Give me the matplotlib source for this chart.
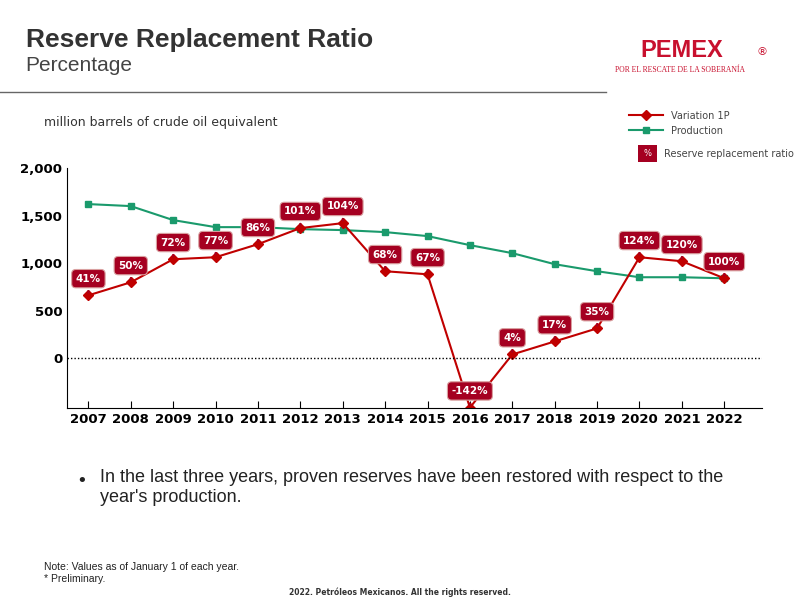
import matplotlib
matplotlib.use("Agg")
import matplotlib.pyplot as plt
from matplotlib.lines import Line2D

years = [2007,2008,2009,2010,2011,2012,2013,2014,2015,2016,2017,2018,2019,2020,2021,2022]
production = [1621,1600,1453,1379,1379,1358,1348,1327,1285,1190,1106,990,916,853,853,842]
variation = [663,800,1042,1063,1200,1369,1421,916,884,-516,42,179,316,1063,1021,842]
ratio = [41,50,72,77,86,101,104,68,67,-142,4,17,35,124,120,100]

RED = "#c00000"; GREEN = "#1a9a6c"; BOX = "#a50021"

fig = plt.figure(figsize=(8,6), dpi=100)
fig.text(0.032,0.922,"Reserve Replacement Ratio",fontsize=19,fontweight="bold",color="#333333",family="Liberation Sans")
fig.text(0.032,0.882,"Percentage",fontsize=15,color="#444444",family="Liberation Sans")
fig.add_artist(Line2D([0,0.757],[0.847,0.847],color="#666666",lw=1))
fig.text(0.80,0.905,"PEMEX",fontsize=17,fontweight="bold",color="#c8102e",family="Liberation Sans")
fig.text(0.945,0.908,"®",fontsize=8,color="#c8102e")
fig.text(0.769,0.88,"POR EL RESCATE DE LA SOBERANÍA",fontsize=5.5,color="#c8102e",family="Liberation Serif")
fig.text(0.055,0.79,"million barrels of crude oil equivalent",fontsize=9,color="#333333")

ax = fig.add_axes([0.084,0.32,0.869,0.40])
ax.plot(years,production,color=GREEN,marker="s",ms=5,lw=1.5)
ax.plot(years,variation,color=RED,marker="D",ms=5,lw=1.5)
ax.axhline(0,color="black",lw=1,ls=(0,(1,1.5)))
ax.set_xlim(2006.5,2022.9)
ax.set_ylim(-520,2000)
ax.set_yticks([0,500,1000,1500,2000])
ax.set_yticklabels(["0","500","1,000","1,500","2,000"])
ax.set_xticks(years)
for s in ["top","right"]:
    ax.spines[s].set_visible(False)
ax.tick_params(axis="y",labelsize=9.5,length=0)
ax.tick_params(axis="x",labelsize=9.5,direction="in",length=5)
for lab in ax.get_xticklabels()+ax.get_yticklabels():
    lab.set_fontweight("bold")

for x,v,r in zip(years,variation,ratio):
    ax.annotate(f"{r}%",(x,v),xytext=(0,12),textcoords="offset points",ha="center",va="center",
                fontsize=7.5,fontweight="bold",color="white",
                bbox=dict(boxstyle="round,pad=0.4",fc=BOX,ec="#d9a0a0",lw=0.8),
                arrowprops=dict(arrowstyle="-",color=BOX,lw=1.5))

handles=[Line2D([],[],color=RED,marker="D",ms=5),Line2D([],[],color=GREEN,marker="s",ms=5)]
fig.legend(handles,["Variation 1P","Production"],loc="upper left",bbox_to_anchor=(0.775,0.83),
           frameon=False,fontsize=7,handlelength=3.5,labelcolor="#444444")
fig.patches.append(plt.Rectangle((0.797,0.73),0.024,0.028,transform=fig.transFigure,fc=BOX))
fig.text(0.809,0.744,"%",fontsize=6,color="white",ha="center",va="center")
fig.text(0.83,0.744,"Reserve replacement ratio",fontsize=7,color="#444444",va="center")

fig.text(0.095,0.19,"•",fontsize=13,color="#222222")
fig.text(0.125,0.163,"In the last three years, proven reserves have been restored with respect to the\nyear's production.",
         fontsize=13,color="#222222",family="Liberation Sans",linespacing=1.25)
fig.text(0.055,0.03,"Note: Values as of January 1 of each year.\n* Preliminary.",fontsize=7.5,color="#222222",family="Liberation Sans")
fig.text(0.5,0.008,"2022. Petróleos Mexicanos. All the rights reserved.",fontsize=5.5,fontweight="bold",ha="center",color="#333333")
fig.savefig("out.png")
